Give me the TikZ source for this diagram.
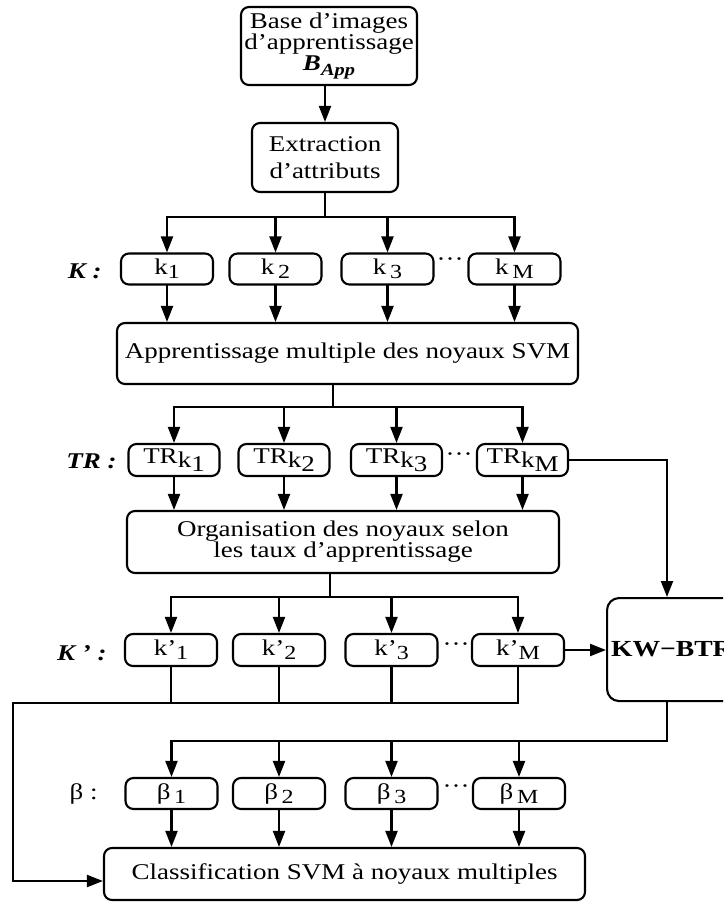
\documentclass[tikz,border=0pt]{standalone}
\usepackage{fontspec}
\setmainfont{Liberation Serif}[FakeStretch=1.2]
\usetikzlibrary{arrows.meta,calc}
\newcommand\lsub[2][-4pt]{\raisebox{#1}{\fontsize{20}{20}\selectfont #2}}
\newcommand\trk[1]{TR\raisebox{-4pt}{k\raisebox{-4pt}{#1}}}
\begin{document}
\begin{tikzpicture}[x=1pt,y=-1pt,line width=2.1pt,line cap=rect,
  font=\fontsize{22.5}{21}\selectfont,
  box/.style={draw,rounded corners=8pt,align=center,inner sep=0pt},
  sbox/.style={box,minimum width=92pt,minimum height=32pt},
  arr/.style={-{Triangle[length=16pt,width=12pt]}},
  lab/.style={font=\fontsize{22.5}{21}\selectfont\bfseries\itshape,anchor=east},
  dots/.style={inner sep=0pt}]
\useasboundingbox (0,0) rectangle (723,909);
\clip (0,0) rectangle (723,909);
% top
\node[box,minimum width=176pt,minimum height=78pt] (base) at (329,46)
  {Base d’images\\d’apprentissage\\\textbf{\textit{B}}\lsub[-5pt]{\fontsize{17}{17}\selectfont\textbf{\textit{App}}}};
\node[box,minimum width=146pt,minimum height=69pt,font=\fontsize{22.5}{27}\selectfont] (ext) at (325,157.5)
  {Extraction\\d’attributs};
\draw[arr] (base.south -| ext.north) -- (ext.north);
% K row
\node[lab] (lK) at (106,271) {K :};
\node[sbox,minimum height=31pt] (k1) at (167,269) {k\lsub{1}};
\node[sbox,minimum height=31pt] (k2) at (275.5,269) {k\,\lsub{2}};
\node[sbox,minimum height=31pt] (k3) at (387.5,269) {k\,\lsub{3}};
\node[sbox,minimum height=31pt] (kM) at (514.5,269) {k\,\lsub{M}};
\node[dots] (d1) at (450,262) {···};
\coordinate (busA) at (0,217);
\draw (ext.south) -- (ext.south |- busA);
\draw (k1.north |- busA) -- (kM.north |- busA);
\foreach \n in {k1,k2,k3,kM} \draw[arr] (\n.north |- busA) -- (\n.north);
% apprentissage
\node[box,minimum width=461pt,minimum height=61pt] (app) at (347.5,353.5)
  {Apprentissage multiple des noyaux SVM};
\foreach \n in {k1,k2,k3,kM} \draw[arr] (\n.south) -- (\n.south |- app.north);
% TR row
\coordinate (busB) at (333,407);
\draw (app.south -| busB) -- (busB);
\node[lab] (lTR) at (121,461) {TR :};
\node[sbox,minimum width=91pt] (tr1) at (174,460) {\trk{1}};
\node[sbox,minimum width=91pt] (tr2) at (284,460) {\trk{2}};
\node[sbox,minimum width=91pt] (tr3) at (396.5,460) {\trk{3}};
\node[sbox,minimum width=91pt] (trM) at (522.5,460) {\trk{M}};
\node[dots] (d2) at (459,457) {···};
\draw (tr1.north |- busB) -- (trM.north |- busB);
\foreach \n in {tr1,tr2,tr3,trM} \draw[arr] (\n.north |- busB) -- (\n.north);
% organisation
\node[box,minimum width=432pt,minimum height=62pt] (org) at (343,542)
  {Organisation des noyaux selon\\les taux d’apprentissage};
\foreach \n in {tr1,tr2,tr3,trM} \draw[arr] (\n.south) -- (\n.south |- org.north);
% K' row
\coordinate (busC) at (330,597);
\draw (org.south -| busC) -- (busC);
\node[lab] (lKp) at (111,653) {K ’ :};
\node[sbox] (kp1) at (171,650) {k’\lsub{1}};
\node[sbox] (kp2) at (279,650) {k’\lsub{2}};
\node[sbox] (kp3) at (391.5,650) {k’\lsub{3}};
\node[sbox] (kpM) at (518,650) {k’\lsub{M}};
\node[dots] (d3) at (456,647) {···};
\draw (kp1.north |- busC) -- (kpM.north |- busC);
\foreach \n in {kp1,kp2,kp3,kpM} \draw[arr] (\n.north |- busC) -- (\n.north);
% KW-BTR
\node[draw,rounded corners=12pt,minimum width=150pt,minimum height=103pt,anchor=north west,
  inner xsep=4pt,text width=142pt,align=left,font=\fontsize{23}{23}\selectfont\bfseries] (kw) at (606,597) {KW−BTR};
\coordinate (kwt) at ($(kw.north west)+(61,0)$);
\coordinate (kwb) at ($(kw.south west)+(61,0)$);
\draw[arr] (trM.east) -| (kwt);
\draw[arr] (kpM.east) -- (kpM.east -| kw.west);
% classification
\node[box,minimum width=481pt,minimum height=52pt] (cls) at (344.5,874)
  {Classification SVM à noyaux multiples};
\coordinate (busD) at (13,703);
\foreach \n in {kp1,kp2,kp3} \draw (\n.south) -- (\n.south |- busD);
\draw[arr] (kpM.south) |- (busD) |- ([yshift=-7pt]cls.west);
% beta row
\coordinate (busE) at (0,741);
\node[anchor=east] (lb) at (102,794) {β :};
\node[sbox,minimum height=31pt] (b1) at (171.5,793.5) {β\,\lsub{1}};
\node[sbox,minimum height=31pt] (b2) at (279,793.5) {β\,\lsub{2}};
\node[sbox,minimum height=31pt] (b3) at (391.5,793.5) {β\,\lsub{3}};
\node[sbox,minimum height=31pt] (bM) at (519,793.5) {β\,\lsub{M}};
\node[dots] (d4) at (456,789) {···};
\draw (kwb) |- (b1.north |- busE);
\foreach \n in {b1,b2,b3,bM} \draw[arr] (\n.north |- busE) -- (\n.north);
\foreach \n in {b1,b2,b3,bM} \draw[arr] (\n.south) -- (\n.south |- cls.north);
\end{tikzpicture}
\end{document}
